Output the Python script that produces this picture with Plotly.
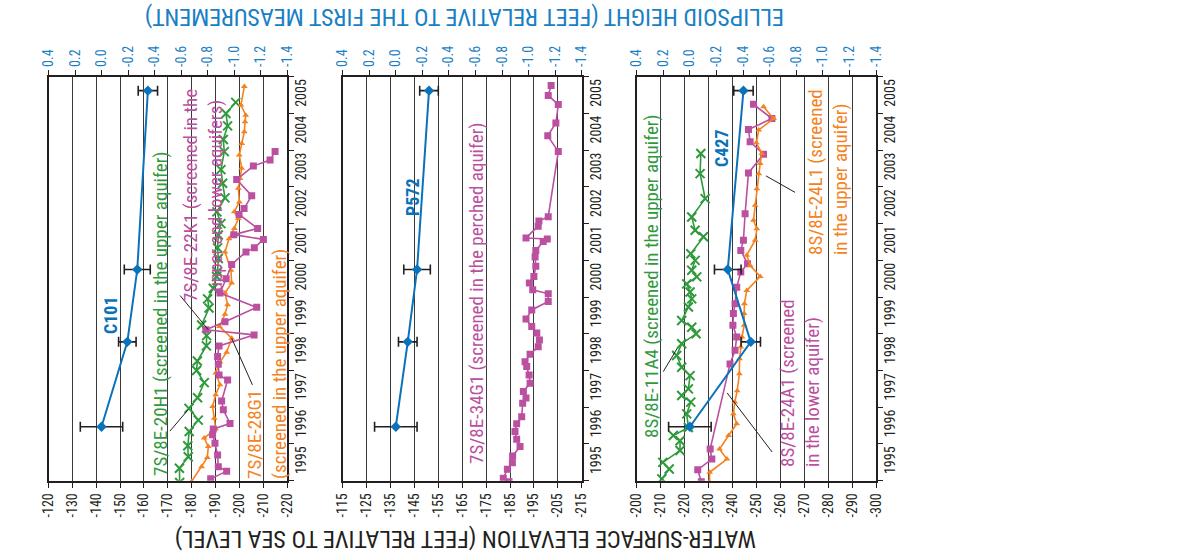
import plotly.graph_objects as go

W, H = 1201, 560

# ---------------- GPS benchmark surveys (ellipsoid height change, ft) ----------------
gps_years = [1996.47, 1998.78, 2000.75, 2005.62]
c101_h = [0.0, -0.195, -0.27, -0.35]
c101_err = [0.16, 0.066, 0.098, 0.073]
p572_h = [0.0, -0.09, -0.16, -0.25]
p572_err = [0.16, 0.07, 0.10, 0.07]
c427_h = [0.0, -0.458, -0.285, -0.403]
c427_err = [0.16, 0.073, 0.10, 0.073]

# ---------------- Water-surface elevations (ft relative to sea level) ----------------
# 7S/8E-20H1
w20h1_yr = [1994.95, 1995.34, 1995.65, 1995.95, 1996.34, 1996.65, 1996.97, 1997.26, 1997.67,
            1998.0, 1998.26, 1998.67, 1998.95, 1999.24, 1999.7, 1999.95, 2000.24, 2000.56,
            2000.69, 2001.05, 2001.34, 2001.69, 2002.0, 2002.32, 2002.7, 2003.1, 2003.47,
            2003.96, 2004.29, 2004.66, 2005.0, 2005.3]
w20h1_el = [-175.0, -174.9, -178.6, -178.4, -179.0, -182.8, -178.9, -182.5, -185.3,
            -182.1, -182.4, -186.2, -186.3, -184.2, -187.3, -186.7, -189.1, -190.5,
            -190.9, -191.2, -190.9, -191.2, -192.3, -190.6, -194.0, -193.0, -192.3,
            -193.7, -193.3, -195.1, -194.4, -198.5]
# 7S/8E-28G1
w28g1_yr = [1994.98, 1995.38, 1995.63, 1995.93, 1996.16, 1996.41, 1996.70, 1997.02, 1997.34,
            1997.61, 1997.93, 1998.23, 1998.50, 1998.88, 1999.20, 1999.53, 1999.79, 2000.11,
            2000.38, 2000.73, 2001.23, 2001.59, 2001.87, 2002.14, 2002.32, 2002.59, 2002.96,
            2003.23, 2003.51, 2003.87, 2004.18, 2004.50, 2004.77, 2004.95, 2005.23, 2005.73]
w28g1_el = [-180.0, -184.2, -186.6, -187.0, -185.3, -190.1, -189.5, -188.8, -190.1,
            -191.9, -190.1, -191.9, -194.7, -196.8, -191.7, -194.0, -195.1, -194.0,
            -196.8, -196.5, -194.0, -195.7, -197.9, -199.6, -197.9, -200.0, -199.6,
            -200.3, -201.0, -200.0, -201.0, -202.1, -202.4, -202.7, -200.7, -202.1]
# 7S/8E-22K1
w22k1_yr = [1995.05, 1995.26, 1995.38, 1995.70, 1996.02, 1996.25, 1996.41, 1996.56, 1996.93,
            1997.17, 1997.74, 1997.88, 1998.17, 1998.38, 1998.67, 1998.97, 1999.11, 1999.33,
            1999.72, 2000.11, 2000.50, 2000.89, 2001.23, 2001.34, 2001.57, 2001.70, 2001.87,
            2002.25, 2002.41, 2002.76, 2003.20, 2003.57, 2003.73, 2003.96]
w22k1_el = [-188.0, -194.7, -191.2, -190.9, -189.8, -188.8, -189.1, -196.1, -193.3,
            -192.6, -195.1, -191.5, -191.2, -190.9, -191.5, -206.2, -186.0, -194.0,
            -207.3, -191.9, -194.5, -196.8, -202.8, -206.3, -210.1, -197.7, -207.7,
            -199.9, -202.0, -205.2, -198.9, -205.9, -212.9, -215.0]
# 7S/8E-34G1
w34g1_yr = [1994.97, 1995.07, 1995.31, 1995.49, 1995.67, 1995.93, 1996.13, 1996.34, 1996.55,
            1996.74, 1997.11, 1997.25, 1997.43, 1997.65, 1997.88, 1998.11, 1998.24, 1998.44,
            1998.65, 1998.83, 1999.02, 1999.20, 1999.40, 1999.65, 1999.88, 2000.09, 2000.20,
            2000.38, 2000.56, 2000.84, 2001.09, 2001.27, 2001.51, 2001.58, 2001.61, 2001.93,
            2002.07, 2002.19, 2003.96, 2004.39, 2004.74, 2005.24, 2005.49, 2005.76]
w34g1_el = [-184.6, -182.2, -183.9, -186.0, -186.1, -189.2, -187.8, -187.1, -187.8,
            -189.9, -190.3, -191.7, -190.6, -193.4, -193.0, -192.0, -191.3, -193.4,
            -196.8, -197.3, -196.2, -194.1, -191.7, -194.1, -201.0, -201.0, -194.5,
            -193.1, -195.0, -195.8, -195.5, -195.8, -198.9, -200.6, -191.7, -196.8,
            -197.1, -201.0, -205.2, -200.8, -204.2, -205.2, -201.0, -202.2]
# 8S/8E-11A4
w11a4_yr = [1995.05, 1995.32, 1995.5, 1995.82, 1996.09, 1996.23, 1996.45, 1996.82, 1997.14,
            1997.32, 1997.5, 1997.86, 1998.09, 1998.41, 1998.73, 1999.0, 1999.18, 1999.36,
            1999.73, 1999.95, 2000.14, 2000.36, 2000.55, 2000.73, 2001.0, 2001.18, 2001.64,
            2001.82, 2002.18, 2002.68, 2003.36, 2003.91]
w11a4_el = [-210.5, -213.6, -210.9, -218.1, -218.1, -215.3, -221.6, -220.9, -222.6,
            -218.8, -221.6, -222.3, -218.8, -216.7, -218.8, -224.8, -223.0, -218.8,
            -221.6, -223.0, -222.3, -220.9, -225.1, -223.0, -224.4, -222.6, -227.9,
            -224.4, -223.0, -228.6, -226.5, -226.8]
# 8S/8E-24A1
w24a1_yr = [1994.97, 1995.3, 1995.59, 1995.86, 1998.18, 1998.55, 1998.91, 1999.23, 1999.55,
            1999.82, 2000.27, 2000.68, 2000.91, 2001.27, 2001.55, 2002.27, 2003.38, 2003.89,
            2004.23, 2004.56, 2004.86, 2005.25]
w24a1_el = [-227.0, -225.5, -231.4, -230.7, -239.0, -241.1, -241.8, -240.2, -240.4,
            -241.1, -241.8, -243.5, -246.3, -243.5, -244.6, -245.3, -246.7, -253.0,
            -247.4, -246.7, -256.5, -248.8]
# 8S/8E-24L1
w24l1_yr = [1994.97, 1995.23, 1995.59, 1995.86, 1996.23, 1996.55, 1996.82, 1997.14, 1997.45,
            1997.91, 1998.32, 1998.64, 1998.91, 1999.23, 1999.55, 1999.82, 2000.18, 2000.56,
            2000.86, 2001.14, 2001.55, 2001.86, 2002.09, 2002.5, 2002.95, 2003.36, 2003.64,
            2003.91, 2004.2, 2004.55, 2004.86, 2005.18]
w24l1_el = [-230.4, -230.5, -237.7, -234.6, -238.4, -241.8, -240.4, -241.0, -242.0,
            -242.9, -243.0, -243.5, -244.0, -244.9, -244.9, -245.0, -246.0, -251.6,
            -247.4, -246.0, -249.5, -250.2, -248.8, -249.5, -250.2, -251.0, -251.6,
            -252.3, -250.0, -251.0, -257.2, -253.0]

# ---------------- axis ticks ----------------
year_tick_pos = [1995.5, 1996.5, 1997.5, 1998.5, 1999.5, 2000.5, 2001.5, 2002.5, 2003.5, 2004.5, 2005.5]
year_tick_lbl = ["1995", "1996", "1997", "1998", "1999", "2000", "2001", "2002", "2003", "2004", "2005"]
year_bounds = [1995, 1996, 1997, 1998, 1999, 2000, 2001, 2002, 2003, 2004, 2005, 2006]

ellip_tick_pos = [0.4, 0.2, 0.0, -0.2, -0.4, -0.6, -0.8, -1.0, -1.2, -1.4]
ellip_tick_lbl = ["0.4", "0.2", "0.0", "-0.2", "-0.4", "-0.6", "-0.8", "-1.0", "-1.2", "-1.4"]

water_ticks_1 = [-120, -130, -140, -150, -160, -170, -180, -190, -200, -210, -220]
water_ticks_2 = [-115, -125, -135, -145, -155, -165, -175, -185, -195, -205, -215]
water_ticks_3 = [-200, -210, -220, -230, -240, -250, -260, -270, -280, -290, -300]

# ---------------- styling ----------------
FONT = "Roboto Condensed, DejaVu Sans Condensed, sans-serif"
BLACK = "#231f20"
BLUE = "#0a72ba"
BLUE_TXT = "#1a80c4"
GREEN = "#2f9a3c"
ORANGE = "#f58220"
MAGENTA = "#bb4fa0"

plot_top, plot_bot = 76.7, 480.7
panel_px = [(48.5, 287.0), (342.7, 581.7), (636.7, 876.0)]
ydom = [1 - plot_bot / H, 1 - plot_top / H]

fig = go.Figure()
layout = dict(width=W, height=H, margin=dict(l=0, r=0, t=0, b=0, autoexpand=False),
              autosize=False,
              paper_bgcolor="white", plot_bgcolor="white", showlegend=False,
              font=dict(family=FONT, size=14, color=BLACK))

water_sets = [water_ticks_1, water_ticks_2, water_ticks_3]
for i, (x0, x1) in enumerate(panel_px):
    dom = [x0 / W, x1 / W]
    xb = 2 * i + 1
    xt = 2 * i + 2
    yi = i + 1
    xb_name = "xaxis" if xb == 1 else f"xaxis{xb}"
    xt_name = f"xaxis{xt}"
    y_name = "yaxis" if yi == 1 else f"yaxis{yi}"
    xb_ref = "x" if xb == 1 else f"x{xb}"
    y_ref = "y" if yi == 1 else f"y{yi}"
    ticks = water_sets[i]
    layout[xb_name] = dict(
        domain=dom, anchor=y_ref, range=[ticks[0], ticks[-1]], automargin=False,
        tickmode="array", tickvals=ticks, ticktext=[str(t) for t in ticks],
        tickangle=-90, ticks="outside", ticklen=5, tickwidth=1.2, tickcolor=BLACK,
        showgrid=True, gridcolor="#3a3a3a", gridwidth=1,
        showline=True, linecolor=BLACK, linewidth=2, zeroline=False,
        tickfont=dict(family=FONT, size=14, color=BLACK),
    )
    layout[xt_name] = dict(
        domain=dom, anchor=y_ref, overlaying=xb_ref, side="top", automargin=False,
        range=[0.4, -1.4], tickmode="array", tickvals=ellip_tick_pos, ticktext=ellip_tick_lbl,
        tickangle=-90, ticks="outside", ticklen=5, tickwidth=1.2, tickcolor=BLACK,
        showgrid=False, showline=True, linecolor=BLACK, linewidth=2, zeroline=False,
        tickfont=dict(family=FONT, size=14, color=BLUE_TXT),
    )
    layout[y_name] = dict(
        domain=ydom, anchor=xb_ref, side="right", range=[1995, 2006], automargin=False,
        tickmode="array", tickvals=year_tick_pos, ticktext=year_tick_lbl,
        ticks="", tickangle=-90, showgrid=False, zeroline=False,
        showline=True, mirror=True, linecolor=BLACK, linewidth=2,
        minor=dict(tickmode="array", tickvals=year_bounds, ticks="outside",
                   ticklen=5, tickwidth=1.2, tickcolor=BLACK, showgrid=False),
        tickfont=dict(family=FONT, size=14, color=BLACK),
    )

fig.update_layout(**layout)


def water_trace(yrs, vals, color, symbol, size, panel, lw=1.6, mlw=0):
    xb = 2 * panel + 1
    xref = "x" if xb == 1 else f"x{xb}"
    yref = "y" if panel == 0 else f"y{panel + 1}"
    marker = dict(symbol=symbol, size=size, color=color, line=dict(width=mlw, color=color))
    fig.add_trace(go.Scatter(x=vals, y=yrs, mode="lines+markers", xaxis=xref, yaxis=yref,
                             line=dict(color=color, width=lw), marker=marker, hoverinfo="skip"))


def gps_trace(heights, errs, panel):
    xref = f"x{2 * panel + 2}"
    yref = "y" if panel == 0 else f"y{panel + 1}"
    fig.add_trace(go.Scatter(
        x=heights, y=gps_years, mode="lines+markers", xaxis=xref, yaxis=yref,
        line=dict(color=BLUE, width=2), marker=dict(symbol="diamond", size=8, color=BLUE),
        error_x=dict(type="data", array=errs, color=BLACK, thickness=1.6, width=5),
        hoverinfo="skip"))


# panel 1
water_trace(w20h1_yr, w20h1_el, GREEN, "x-thin", 9, 0, mlw=2)
water_trace(w28g1_yr, w28g1_el, ORANGE, "triangle-up", 6, 0)
water_trace(w22k1_yr, w22k1_el, MAGENTA, "square", 7, 0)
gps_trace(c101_h, c101_err, 0)
# panel 2
water_trace(w34g1_yr, w34g1_el, MAGENTA, "square", 7, 1)
gps_trace(p572_h, p572_err, 1)
# panel 3
water_trace(w11a4_yr, w11a4_el, GREEN, "x-thin", 9, 2, mlw=2)
water_trace(w24a1_yr, w24a1_el, MAGENTA, "square", 7, 2)
water_trace(w24l1_yr, w24l1_el, ORANGE, "triangle-up", 6, 2)
gps_trace(c427_h, c427_err, 2)


# ---------------- labels ----------------
def pp(x, y):
    return x / W, 1 - y / H


def label(text, x, y, color, size=19, bold=False, align="center"):
    xp, yp = pp(x, y)
    if bold:
        text = f"<b>{text}</b>"
    fig.add_annotation(text=text, x=xp, y=yp, xref="paper", yref="paper",
                       xanchor="center", yanchor="middle", textangle=-90, showarrow=False,
                       align=align, font=dict(family=FONT, size=size, color=color))


label("C101", 110, 315, BLUE, size=18, bold=True)
label("7S/8E-20H1 (screened in the upper aquifer)", 160, 314, GREEN)
label("7S/8E-22K1 (screened in the<br>upper and lower aquifers)", 203, 195, MAGENTA)
label("7S/8E-28G1<br>(screened in the upper aquifer)", 267, 364, ORANGE, align="left")
label("P572", 412, 197, BLUE, size=18, bold=True)
label("7S/8E-34G1 (screened in the perched aquifer)", 476, 293, MAGENTA)
label("8S/8E-11A4 (screened in the upper aquifer)", 651, 276, GREEN)
label("C427", 722, 148, BLUE, size=18, bold=True)
label("8S/8E-24A1 (screened<br>in the lower aquifer)", 800, 383, MAGENTA, align="left")
label("8S/8E-24L1 (screened<br>in the upper aquifer)", 828, 172, ORANGE, align="left")

# leader lines (water-level axis coordinates)
leaders = [
    ("x", "y", -170.9, 1996.35, -178.5, 1996.93),
    ("x", "y", -175.2, 2000.04, -187.0, 1999.11),
    ("x", "y", -196.8, 1998.88, -205.5, 1997.61),
    ("x5", "y3", -211.1, 1997.97, -217.0, 1998.61),
    ("x5", "y3", -237.8, 1997.39, -256.6, 1995.78),
    ("x5", "y3", -254.0, 2003.30, -266.2, 2002.85),
]
for xr, yr, xa, ya, xb_, yb in leaders:
    fig.add_shape(type="line", xref=xr, yref=yr, x0=xa, y0=ya, x1=xb_, y1=yb,
                  line=dict(color=BLACK, width=1))

# axis titles
tx, ty = pp(465, 539)
fig.add_annotation(text="WATER-SURFACE ELEVATION (FEET RELATIVE TO SEA LEVEL)", x=tx, y=ty,
                   xref="paper", yref="paper", textangle=180, showarrow=False,
                   xanchor="center", yanchor="middle",
                   font=dict(family=FONT, size=24, color=BLACK))
tx, ty = pp(465, 17)
fig.add_annotation(text="ELLIPSOID HEIGHT (FEET RELATIVE TO THE FIRST MEASUREMENT)", x=tx, y=ty,
                   xref="paper", yref="paper", textangle=180, showarrow=False,
                   xanchor="center", yanchor="middle",
                   font=dict(family=FONT, size=24, color=BLUE_TXT))

fig.write_html("out.html")
